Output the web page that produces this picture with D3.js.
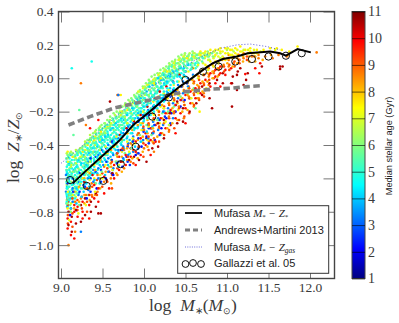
<!DOCTYPE html>
<html><head><meta charset="utf-8">
<script src="https://cdn.jsdelivr.net/npm/d3@7"></script>
<style>html,body{margin:0;padding:0;background:#fff}svg{display:block}</style>
</head><body><div id="c"></div>
<script>
// Tick labels
const massTicks=[9,9.5,10,10.5,11,11.5,12];
const metalTicks=[0.4,0.2,0,-0.2,-0.4,-0.6,-0.8,-1.0];
const ageTicks=[1,2,3,4,5,6,7,8,9,10,11];
// Lines [log M*, log Z]
const mufasaStar=[[9.14,-.63],[9.3,-.555],[9.5,-.465],[9.7,-.375],[9.87,-.28],[10.07,-.2],[10.23,-.13],[10.43,-.05],[10.55,-.01],[10.71,.05],[10.83,.09],[10.95,.115],[11.12,.13],[11.25,.15],[11.52,.16],[11.64,.15],[11.71,.135],[11.85,.175],[12.01,.155]];
const andrews=[[9.09,-.28],[9.35,-.23],[9.63,-.18],[9.85,-.155],[10.07,-.13],[10.3,-.1],[10.5,-.08],[10.83,-.065],[11.04,-.06],[11.25,-.05],[11.4,-.045]];
const mufasaGas=[[9,-.51],[9.2,-.43],[9.5,-.3],[9.8,-.17],[10.1,-.05],[10.4,.05],[10.7,.13],[10.92,.18],[11.12,.2],[11.28,.205],[11.48,.19],[11.64,.17]];
const gallazzi=[[9.11,-.61],[9.31,-.645],[9.51,-.615],[9.72,-.515],[9.9,-.41],[10.1,-.23],[10.3,-.115],[10.5,-.01],[10.71,.04],[10.9,.07],[11.1,.1],[11.3,.115],[11.5,.13],[11.71,.135],[11.9,.15]];
// Scatter rows per age: [log M*, Z, Z, ...]
const age47=[[9.07,-.5,-.53,-.56,-.6,-.63,-.66,-.7,-.74],[9.1,-.48,-.52,-.55,-.58,-.62,-.65,-.69,-.73],[9.13,-.49,-.54,-.57,-.6,-.64,-.67,-.71],[9.17,-.47,-.51,-.54,-.58,-.61,-.65,-.68,-.72],[9.2,-.46,-.5,-.53,-.57,-.6,-.63,-.67],[9.24,-.45,-.48,-.52,-.55,-.59,-.62,-.66],[9.28,-.44,-.47,-.51,-.54,-.58,-.61,-.64],[9.32,-.42,-.46,-.49,-.53,-.56,-.6],[9.36,-.4,-.44,-.47,-.5,-.54,-.58],[9.4,-.39,-.42,-.46,-.49,-.53,-.57],[9.44,-.36,-.4,-.44,-.48,-.51,-.55],[9.48,-.35,-.38,-.42,-.46,-.49,-.53],[9.52,-.33,-.37,-.4,-.44,-.48],[9.56,-.32,-.35,-.39,-.42,-.46,-.5],[9.6,-.3,-.34,-.37,-.41,-.44],[9.64,-.28,-.32,-.35,-.38,-.42],[9.68,-.26,-.3,-.34,-.37,-.41],[9.72,-.25,-.28,-.32,-.35,-.39],[9.76,-.23,-.27,-.3,-.34,-.37],[9.8,-.21,-.25,-.28,-.31,-.35],[9.84,-.2,-.23,-.26,-.3,-.33],[9.88,-.18,-.21,-.25,-.28,-.31],[9.92,-.16,-.19,-.23,-.26,-.3],[9.96,-.14,-.18,-.21,-.24,-.28],[10,-.12,-.15,-.19,-.22,-.25],[10.04,-.1,-.14,-.17,-.2,-.24],[10.08,-.09,-.12,-.15,-.19,-.22],[10.12,-.07,-.1,-.13,-.16,-.2],[10.16,-.05,-.08,-.12,-.15,-.18],[10.2,-.03,-.06,-.1,-.13,-.16],[10.24,-.01,-.04,-.08,-.11,-.14],[10.28,0,-.03,-.06,-.09],[10.32,.02,-.01,-.04,-.08],[10.36,.03,0,-.03,-.06],[10.4,.04,.01,-.02],[10.45,.06,.03,0],[10.5,.07,.04,.01],[10.56,.08,.05],[10.62,.09,.06],[9.13,.06],[9.37,.1]];
const age56=[[9.08,-.46,-.52,-.57,-.61,-.66,-.72,-.77],[9.11,-.45,-.5,-.56,-.63,-.7,-.76],[9.15,-.34,-.47,-.52,-.59,-.66,-.74],[9.19,-.44,-.49,-.56,-.62,-.69],[9.22,-.19,-.43,-.48,-.55,-.61],[9.26,-.41,-.47,-.53,-.6,-.66],[9.3,-.39,-.45,-.5,-.57],[9.34,-.37,-.43,-.48,-.55],[9.38,-.35,-.39,-.45,-.52],[9.42,-.33,-.38,-.44],[9.46,-.31,-.36,-.41],[9.5,-.3,-.34,-.39],[9.54,-.28,-.31,-.36],[9.58,-.26,-.3,-.35],[9.62,-.24,-.28,-.33],[9.66,-.23,-.27,-.31],[9.7,-.21,-.25,-.29],[9.74,-.2,-.23,-.28],[9.78,-.17,-.21,-.26],[9.82,-.16,-.19,-.24],[9.86,-.13,-.17,-.22],[9.9,-.11,-.16,-.2],[9.94,-.1,-.13,-.18],[9.98,-.08,-.11,-.16],[10.02,-.06,-.09,-.14],[10.06,-.03,-.07,-.11],[10.1,-.02,-.06,-.1],[10.14,-.01,-.04,-.08],[10.18,.01,-.02,-.06],[10.22,.02,0,-.05],[10.26,.05,.02,-.02],[10.3,.07,.03,0],[10.34,.08,.05,.01],[10.38,.09,.06,.02],[10.42,.11,.07,.03],[10.47,.12,.09,.05],[10.52,.13,.1,.06],[10.58,.14,.11,.07],[10.64,.14,.1,.07],[10.7,.13,.1],[10.76,.14],[10.82,.15],[9.85,-.42],[10.2,-.34],[10.62,-.18]];
const age66=[[9.07,-.45,-.55,-.64,-.73],[9.12,-.44,-.53,-.62,-.7,-.8],[9.18,-.43,-.51,-.6,-.68],[9.23,-.42,-.5,-.58],[9.29,-.38,-.47,-.55,-.66],[9.35,-.34,-.44,-.5],[9.41,-.32,-.4,-.46],[9.47,-.29,-.37,-.43],[9.53,-.27,-.33],[9.59,-.25,-.29],[9.65,-.22,-.27],[9.71,-.2,-.25],[9.77,-.16,-.23],[9.83,-.14,-.19],[9.89,-.11,-.15],[9.95,-.08,-.12],[10.01,-.05,-.1],[10.07,-.02,-.07],[10.13,0,-.04],[10.19,.03,-.01],[10.25,.05,.01],[10.31,.08,.04],[10.37,.1,.06],[10.43,.12,.08],[10.49,.14,.1],[10.55,.15,.11],[10.61,.15,.12],[10.67,.15,.11],[10.73,.15,.12],[10.79,.14,.11],[10.85,.16,.13],[10.92,.15,.12],[11,.17],[11.08,.16],[11.2,.17],[9.98,-.38],[10.3,-.28]];
const age75=[[9.08,-.44,-.62,-.78],[9.14,-.47,-.7],[9.2,-.45,-.66],[9.26,-.44,-.6],[9.32,-.4,-.56],[9.4,-.37,-.52,-.6],[9.48,-.32,-.5],[9.56,-.29,-.45],[9.64,-.26,-.41],[9.72,-.22,-.36],[9.8,-.19,-.33],[9.88,-.14,-.3],[9.96,-.11,-.27],[10.04,-.04,-.24],[10.12,-.03,-.22],[10.2,0,-.17],[10.28,.04,-.12],[10.36,.07,-.09],[10.44,.1,-.05],[10.52,.12,-.02],[10.6,.13,.01],[10.68,.16,.14,.04],[10.74,.16,.13,.08],[10.8,.17,.15,.1],[10.86,.17,.14,.1],[10.92,.18,.16,.12],[10.98,.18,.15,.11],[11.04,.17,.14],[11.1,.18,.15],[11.16,.19,.16],[11.22,.17],[11.28,.18,.16],[11.36,.17,.15],[11.44,.17],[11.52,.18],[11.6,.18],[11.66,.17],[11.75,.16],[11.85,.19],[10.67,-.2],[9.72,-.1]];
const age87=[[9.09,-.72,-1],[9.17,-.74,-.92],[9.24,-.03,-.72],[9.3,-.28,-.7],[9.37,-.63,-.7],[9.44,-.58,-.68],[9.52,-.53,-.62],[9.6,-.51,-.6],[9.68,-.47,-.58,-.1],[9.76,-.43,-.54],[9.84,-.39,-.5],[9.92,-.34,-.45],[10,-.31,-.42],[10.06,-.28,-.38],[10.12,-.25,-.36,-.44],[10.18,-.22,-.3],[10.24,-.18,-.27],[10.3,-.15,-.23,-.32],[10.36,-.12,-.21],[10.42,-.1,-.17],[10.48,-.07,-.14,-.24],[10.54,-.05,-.11],[10.6,-.03,-.09,-.17],[10.66,.01,-.05,-.12],[10.72,.02,-.03,-.09],[10.78,.06,.01,-.04],[10.84,.07,.03],[10.9,.09,.05],[10.96,.12,.08],[11.02,.14,.11,.07],[11.08,.13,.09],[11.14,.14,.11],[11.2,.15,.12],[11.3,.15,.13],[11.38,.14,.12],[11.46,.13],[11.55,.12],[11.62,.14],[11.72,.13],[12.08,.155]];
const age98=[[9.08,-.76,-.84,-.9],[9.12,-.78,-.86,-.94],[9.16,-.76,-.8,-.96],[9.2,-.77,-.83],[9.26,-.74,-.8,-.84],[9.34,-.7,-.76,-.84],[9.4,-.64,-.72],[9.45,-.25,-.66,-.74],[9.52,-.59,-.69],[9.58,-.56,-.66],[9.64,-.52,-.6],[9.7,-.47,-.55],[9.78,-.46,-.52],[9.84,-.42,-.47],[9.9,-.38,-.44,-.52],[9.96,-.36,-.46],[10.02,-.33,-.4],[10.08,-.3,-.37,-.46],[10.14,-.28,-.38],[10.2,-.24,-.33],[10.26,-.21,-.3],[10.32,-.19,-.28],[10.38,-.16,-.24,-.33],[10.44,-.13,-.21],[10.5,-.1,-.18,-.27],[10.56,-.08,-.15],[10.62,-.06,-.12],[10.68,-.03,-.09],[10.74,-.01,-.07],[10.8,.03,-.05],[10.86,.05,.01,-.03],[10.92,.07,.03,-.05],[10.98,.05,.02],[11.05,.06,-.03],[11.22,.025],[11.34,.06],[11.4,.09],[11.39,.03],[9.35,-.3],[9.69,-.1]];
const age106=[[9.09,-.8,-.88],[9.13,-.83,-.92],[9.18,-.79,-.87],[9.24,-.76,-.86],[9.29,-.72,-.82],[9.36,-.74,-.8],[9.42,-.69,-.77],[9.45,-.81],[9.48,-.81],[9.55,-.61],[9.62,-.57],[9.72,-.43,-.5],[9.82,-.49],[9.88,-.47],[9.94,-.41,-.49],[10.03,-.36,-.5],[10.1,-.33,-.42],[10.17,-.27,-.41],[10.24,-.25,-.36],[10.31,-.28,-.21],[10.4,-.27,-.14],[10.47,-.18,-.26],[10.55,-.2,-.12],[10.63,-.15,-.08],[10.7,-.1,-.05],[10.79,-.12,-.03],[10.82,-.18],[10.88,-.01,-.06],[10.95,.03,-.03],[11.06,-.17,-.03],[11.07,.01],[11.12,-.07,.02],[11.13,.04],[11.16,.06],[11.2,-.04],[11.23,-.01],[11.25,.03],[11.42,.07],[11.64,.07,.055],[11.67,.07],[9.59,-.14]];
const age33=[[9.06,-.58,-.68],[9.09,-.6,-.74],[9.14,-.66,-.74],[9.21,-.62,-.7],[9.24,-.92],[9.27,-.57,-.64],[9.33,-.5,-.6,-.67],[9.39,-.55,-.62],[9.45,-.46,-.54,-.6],[9.51,-.44,-.52],[9.57,-.4,-.48,-.56],[9.63,-.37,-.46,-.54],[9.69,-.36,-.43,-.5,-.1],[9.75,-.33,-.41,-.48],[9.81,-.29,-.39,-.46],[9.87,-.27,-.35,-.44],[9.93,-.24,-.33,-.42],[9.99,-.22,-.3,-.37],[10.05,-.19,-.28,-.36],[10.11,-.17,-.26,-.33],[10.17,-.14,-.24,-.31],[10.23,-.12,-.2,-.28],[10.29,-.09,-.18],[10.35,-.07,-.15,-.24],[10.41,-.04,-.12],[10.47,-.02,-.09],[10.53,0,-.05],[10.59,.02]];
// Second pass over the cloud, at off-column masses
const age42=[[9.073,-.57,-.65,-.71,-.77],[9.094,-.51,-.61,-.68],[9.118,-.59,-.72,-.78],[9.152,-.55,-.63,-.7],[9.186,-.53,-.66,-.75],[9.213,-.49,-.56,-.69],[9.247,-.51,-.6,-.71],[9.273,-.46,-.62,-.68],[9.305,-.48,-.52,-.63],[9.338,-.45,-.59,-.65],[9.372,-.42,-.52,-.57],[9.403,-.44,-.5,-.61],[9.437,-.41,-.47,-.57],[9.466,-.38,-.45,-.52,-.63],[9.498,-.37,-.43,-.5],[9.531,-.35,-.41,-.49,-.58],[9.565,-.34,-.44,-.52],[9.597,-.31,-.38,-.47],[9.624,-.3,-.39,-.45,-.55],[9.659,-.27,-.36,-.43],[9.691,-.28,-.34,-.44,-.53],[9.728,-.24,-.33,-.4],[9.756,-.25,-.31,-.42,-.49],[9.793,-.22,-.3,-.36],[9.827,-.19,-.28,-.37,-.45],[9.858,-.18,-.25,-.33],[9.892,-.15,-.24,-.3,-.41],[9.927,-.13,-.21,-.29],[9.961,-.12,-.2,-.27,-.38],[9.994,-.09,-.17,-.26],[10.033,-.08,-.16,-.23,-.32],[10.066,-.05,-.13,-.21],[10.102,-.04,-.11,-.19,-.29],[10.138,-.03,-.09,-.17],[10.171,0,-.07,-.14,-.25],[10.207,-.01,-.05,-.12],[10.244,.02,-.03,-.1,-.2],[10.276,.01,-.02,-.08],[10.313,.03,.01,-.06],[10.348,.04,-.02],[10.392,.05,.02],[10.43,.06,.01],[10.48,.06,.02],[10.53,.08]];
const age52=[[9.066,-.48,-.55,-.62,-.69,-.75],[9.089,-.47,-.59,-.65,-.71],[9.126,-.46,-.51,-.58,-.69],[9.161,-.49,-.56,-.63,-.7],[9.194,-.45,-.52,-.59,-.65],[9.228,-.44,-.5,-.58,-.64],[9.262,-.43,-.49,-.56],[9.295,-.41,-.48,-.53,-.62],[9.327,-.39,-.44,-.52,-.58],[9.361,-.37,-.42,-.49,-.56],[9.394,-.36,-.41,-.48],[9.426,-.34,-.39,-.45,-.51],[9.459,-.33,-.37,-.43,-.5],[9.493,-.31,-.36,-.41],[9.527,-.29,-.34,-.38,-.46],[9.561,-.28,-.33,-.37],[9.593,-.27,-.31,-.36,-.42],[9.629,-.25,-.3,-.36],[9.662,-.24,-.29,-.33,-.39],[9.694,-.23,-.26,-.31],[9.732,-.21,-.26,-.3,-.38],[9.767,-.19,-.24,-.29],[9.801,-.18,-.22,-.27,-.32],[9.836,-.16,-.21,-.24],[9.869,-.14,-.19,-.24,-.29],[9.904,-.12,-.17,-.22],[9.938,-.11,-.15,-.2,-.25],[9.972,-.09,-.14,-.18],[10.011,-.07,-.12,-.17,-.21],[10.047,-.05,-.1,-.15],[10.083,-.03,-.08,-.13,-.18],[10.117,-.02,-.07,-.11],[10.154,0,-.05,-.09,-.14],[10.189,.01,-.03,-.08],[10.226,.03,-.01,-.06,-.1],[10.263,.04,.01,-.04],[10.295,.06,.02,-.02],[10.332,.07,.03,-.01],[10.367,.07,.04,.01],[10.405,.09,.05,.02],[10.441,.1,.07],[10.483,.11,.08,.04],[10.527,.12,.09],[10.573,.12,.09,.06],[10.612,.13,.08],[10.655,.12,.09],[10.71,.12],[10.78,.13]];
const age61=[[9.078,-.48,-.58,-.66,-.75],[9.104,-.46,-.54,-.68],[9.143,-.45,-.56,-.64,-.72],[9.172,-.46,-.55,-.66],[9.208,-.44,-.54,-.62],[9.252,-.42,-.46,-.57],[9.284,-.4,-.49,-.52],[9.318,-.37,-.43,-.51],[9.352,-.36,-.41,-.46],[9.388,-.33,-.38,-.44],[9.423,-.31,-.36,-.42],[9.456,-.3,-.35],[9.489,-.28,-.33,-.39],[9.524,-.27,-.32],[9.558,-.25,-.3,-.35],[9.592,-.23,-.28],[9.634,-.21,-.26,-.31],[9.671,-.2,-.24],[9.704,-.18,-.23,-.28],[9.741,-.17,-.21],[9.775,-.15,-.2,-.25],[9.812,-.13,-.18],[9.847,-.12,-.16,-.21],[9.882,-.1,-.14],[9.917,-.09,-.12,-.17],[9.951,-.07,-.1],[9.986,-.05,-.09,-.13],[10.024,-.03,-.06],[10.058,-.01,-.05,-.1],[10.092,.01,-.03],[10.128,.02,-.02,-.06],[10.163,.03,0],[10.198,.05,.01,-.03],[10.233,.06,.03],[10.268,.07,.04,0],[10.304,.09,.05],[10.339,.1,.07,.03],[10.376,.11,.08],[10.414,.13,.09,.05],[10.452,.14,.11],[10.494,.15,.12,.07],[10.538,.14,.11],[10.585,.16,.13,.09],[10.631,.14,.12],[10.684,.15,.13],[10.727,.14],[10.768,.16,.13],[10.83,.13],[10.88,.15]];
const age71=[[9.084,-.5,-.68],[9.122,-.52,-.75],[9.178,-.48,-.71],[9.235,-.47,-.63],[9.291,-.43,-.58],[9.345,-.38,-.61],[9.412,-.35,-.55],[9.473,-.34,-.47,-.58],[9.536,-.3,-.41,-.52],[9.602,-.27,-.38,-.49],[9.667,-.24,-.35,-.46],[9.735,-.2,-.3,-.44],[9.798,-.16,-.27,-.38],[9.864,-.15,-.25,-.36],[9.931,-.08,-.22,-.33],[9.991,-.06,-.2,-.31],[10.055,-.04,-.15,-.29],[10.112,-.01,-.14,-.25],[10.173,.02,-.11,-.2],[10.238,.04,-.09,-.18],[10.296,.06,-.07,-.15],[10.358,.09,-.04,-.14],[10.418,.11,-.02,-.1],[10.477,.13,.01,-.08],[10.535,.13,.04,-.06],[10.596,.15,.06,-.03],[10.652,.14,.08,0],[10.712,.15,.09,.02],[10.773,.15,.11,.05],[10.838,.16,.12,.07],[10.895,.17,.13,.09],[10.947,.16,.13],[11.012,.18,.15,.12],[11.063,.17,.14],[11.125,.17,.14],[11.183,.16,.14],[11.255,.17,.15],[11.325,.17,.15],[11.405,.16],[11.58,.17]];
const age82=[[9.098,-.7,-.82],[9.159,-.68,-.78],[9.219,-.65,-.74],[9.282,-.6,-.7,-.75],[9.346,-.57,-.66,-.73],[9.409,-.55,-.63,-.7],[9.471,-.49,-.6,-.66],[9.538,-.46,-.56],[9.604,-.43,-.53,-.63],[9.667,-.4,-.5,-.57],[9.733,-.37,-.47,-.56],[9.796,-.33,-.42,-.49],[9.859,-.31,-.4,-.48],[9.924,-.28,-.37,-.48],[9.985,-.27,-.35,-.44],[10.042,-.25,-.33,-.41],[10.104,-.21,-.3,-.38],[10.161,-.19,-.27,-.35],[10.219,-.16,-.24,-.33],[10.281,-.12,-.21,-.3],[10.342,-.1,-.18,-.27],[10.403,-.07,-.15,-.25],[10.462,-.05,-.12,-.2],[10.524,-.03,-.1,-.19],[10.583,-.01,-.07,-.15],[10.642,.02,-.04,-.12],[10.705,.05,-.02,-.08],[10.764,.07,.03,-.02],[10.826,.08,.04,0],[10.887,.1,.06,.01],[10.943,.11,.07],[11.004,.12,.09],[11.067,.12,.07],[11.125,.12,.09],[11.193,.13,.1],[11.267,.13,.1],[11.34,.13,.1],[11.43,.11],[11.53,.14],[11.74,.14]];
const age92=[[9.083,-.74,-.82,-.87],[9.138,-.72,-.81,-.89],[9.198,-.73,-.79],[9.252,-.71,-.78],[9.314,-.66,-.74,-.8],[9.376,-.65,-.71],[9.433,-.61,-.7],[9.497,-.57,-.65],[9.558,-.54,-.62],[9.614,-.5,-.58,-.66],[9.679,-.45,-.54],[9.743,-.42,-.5],[9.806,-.4,-.47],[9.872,-.37,-.43,-.51],[9.936,-.33,-.41],[9.993,-.29,-.39,-.47],[10.055,-.27,-.35,-.43],[10.117,-.24,-.32,-.39],[10.182,-.2,-.29,-.38],[10.243,-.17,-.25,-.34],[10.303,-.16,-.24,-.31],[10.365,-.13,-.2,-.3],[10.423,-.09,-.18,-.25],[10.486,-.08,-.16,-.23],[10.544,-.06,-.12,-.21],[10.603,-.02,-.1,-.16],[10.664,-.01,-.06,-.13],[10.723,.02,-.04,-.11],[10.785,.02,-.01,-.07],[10.842,.04,0],[10.903,.06,.02],[10.964,.07,.04],[11.028,.08,.05],[11.09,.1,.07],[11.15,.09,.11],[11.24,.11,.13],[11.33,.13]];
const age26=[[9.079,-.63,-.72],[9.146,-.6,-.68],[9.224,-.57,-.68],[9.289,-.53,-.65],[9.356,-.48,-.6,-.68],[9.417,-.47,-.56],[9.482,-.43,-.55,-.62],[9.546,-.42,-.5],[9.612,-.38,-.49,-.57],[9.674,-.34,-.45,-.51],[9.738,-.35,-.43],[9.803,-.31,-.41,-.5],[9.866,-.29,-.38],[9.933,-.26,-.36,-.45],[9.995,-.24,-.32],[10.058,-.22,-.3,-.39],[10.125,-.18,-.28],[10.188,-.16,-.25,-.34],[10.252,-.13,-.23],[10.318,-.11,-.2,-.27],[10.384,-.08,-.16],[10.45,-.05,-.13],[10.516,-.03,-.08],[9.83,-.52]];
// Third pass: colours that mix into the cloud below the median line
const age22=[[9.11,-.82],[9.19,-.79],[9.31,-.72],[9.43,-.66],[9.54,-.6],[9.63,-.58],[9.74,-.53],[9.79,-.47],[9.9,-.46],[9.97,-.41],[10.03,-.35],[10.09,-.3],[10.13,-.37],[10.21,-.3],[10.27,-.24],[10.33,-.21],[10.38,-.2],[10.44,-.17],[10.49,-.13]];
const age58=[[9.11,-.8],[9.22,-.76],[9.33,-.7],[9.42,-.63],[9.49,-.56],[9.58,-.53],[9.66,-.5],[9.77,-.45],[9.86,-.38],[9.95,-.34],[10.03,-.28],[10.09,-.34],[10.16,-.25],[10.22,-.21],[10.29,-.2],[10.36,-.17],[10.44,-.11],[10.53,-.09],[10.6,-.06]];
const age72=[[9.1,-.85],[9.21,-.81],[9.3,-.76],[9.41,-.68],[9.5,-.6],[9.62,-.55],[9.7,-.52],[9.82,-.44],[9.89,-.39],[9.97,-.31],[10.04,-.37],[10.11,-.3],[10.19,-.27],[10.26,-.26],[10.34,-.2],[10.41,-.19],[10.49,-.16],[10.57,-.12],[10.65,-.09],[10.75,-.06]];
const age102=[[9.28,-.62],[9.38,-.58],[9.47,-.48],[9.55,-.44],[9.63,-.41],[9.71,-.34],[9.79,-.3],[9.88,-.26],[9.96,-.22],[10.04,-.17],[10.13,-.12],[10.19,-.08],[10.27,-.05],[10.35,-.02],[10.43,.02],[10.5,.04],[10.58,.06]];
const ageValues=[4.7,5.6,6.6,7.5,8.7,9.8,10.6,3.3,4.1,5.2,6.1,7.1,8.2,9.2,2.6,2.2,5.8,7.2,10.2];
const ageRows=[age47,age56,age66,age75,age87,age98,age106,age33,age42,age52,age61,age71,age82,age92,age26,age22,age58,age72,age102];

const W=399,H=323;
const svg=d3.select('#c').append('svg').attr('width',W).attr('height',H);
const x=d3.scaleLinear().domain([9,12]).range([61,310]);
const y=d3.scaleLinear().domain([0.4,-1.2]).range([11.5,278.5]);
const jetStops=[[0,'#00007f'],[.11,'#0000ff'],[.35,'#00ffff'],[.64,'#ffff00'],[.89,'#ff0000'],[1,'#7f0000']];
const ageNorm=d3.scaleLinear().domain([1,11]).range([0,1]);
const jet=d3.scaleLinear().domain(jetStops.map(d=>d[0])).range(jetStops.map(d=>d[1]));
const serif='"Liberation Serif",serif', sans='"Liberation Sans",sans-serif';
const txt='#3a3a3a';

// flatten scatter; drawing order only mixes the colours
let pts=[];
ageRows.forEach((rows,k)=>rows.forEach(r=>r.slice(1).forEach(z=>pts.push({m:r[0],z,age:ageValues[k]}))));
pts=pts.map((p,i)=>({...p,o:(i*397)%1009})).sort((a,b)=>a.o-b.o);
svg.append('g').selectAll('circle').data(pts).join('circle')
 .attr('cx',d=>x(d.m)).attr('cy',d=>y(d.z)).attr('r',1.3).attr('fill',d=>jet(ageNorm(d.age)));

const line=d3.line().x(d=>x(d[0])).y(d=>y(d[1]));
svg.append('path').attr('d',line(mufasaGas)).attr('fill','none').attr('stroke','#4a4ad0').attr('stroke-width',.9).attr('stroke-dasharray','1 2');
svg.append('path').attr('d',line(andrews)).attr('fill','none').attr('stroke','#808080').attr('stroke-width',3.6).attr('stroke-dasharray','6.5 3.5');
svg.append('path').attr('d',line(mufasaStar)).attr('fill','none').attr('stroke','#000').attr('stroke-width',2);
svg.append('g').selectAll('circle').data(gallazzi).join('circle')
 .attr('cx',d=>x(d[0])).attr('cy',d=>y(d[1])).attr('r',3.6).attr('fill','none').attr('stroke','#111').attr('stroke-width',1);

// axes with inward ticks
const tickCol='#777';
const xb=svg.append('g').attr('transform','translate(0,278.5)').call(d3.axisBottom(x).tickValues(massTicks).tickSize(-10).tickPadding(5).tickFormat(d3.format('.1f')));
const xt=svg.append('g').attr('transform','translate(0,11.5)').call(d3.axisTop(x).tickValues(massTicks).tickSize(-11).tickFormat(''));
const yl=svg.append('g').attr('transform','translate(58.5,0)').call(d3.axisLeft(y).tickValues(metalTicks).tickSize(-11).tickPadding(5).tickFormat(d=>d3.format('.1f')(d).replace('-','\u2212')));
const yr=svg.append('g').attr('transform','translate(334.5,0)').call(d3.axisRight(y).tickValues(metalTicks).tickSize(-11).tickFormat(''));
[xb,xt,yl,yr].forEach(g=>{g.select('.domain').remove();g.selectAll('line').attr('stroke',tickCol).attr('stroke-width',1);
 g.selectAll('text').attr('font-family',serif).attr('font-size',13.5).attr('fill',txt);});
xb.selectAll('text').attr('dy','0.6em');
svg.append('rect').attr('x',58.5).attr('y',11.5).attr('width',276).attr('height',267).attr('fill','none').attr('stroke','#444').attr('stroke-width',1.4);

// legend
const lg=svg.append('g');
lg.append('rect').attr('x',177.7).attr('y',205.7).attr('width',151).attr('height',67.6).attr('fill','#fff').attr('stroke','#333').attr('stroke-width',1);
const rowsY=[213,230,247,263];
lg.append('line').attr('x1',185).attr('x2',202).attr('y1',rowsY[0]).attr('y2',rowsY[0]).attr('stroke','#000').attr('stroke-width',1.8);
lg.append('line').attr('x1',185).attr('x2',202).attr('y1',rowsY[1]).attr('y2',rowsY[1]).attr('stroke','#808080').attr('stroke-width',3).attr('stroke-dasharray','5 3');
lg.append('line').attr('x1',185).attr('x2',202).attr('y1',rowsY[2]).attr('y2',rowsY[2]).attr('stroke','#4a4ad0').attr('stroke-width',.8).attr('stroke-dasharray','1 1.3');
[185.5,193,201].forEach((cx,i)=>lg.append('circle').attr('cx',cx).attr('cy',[264,263,264][i]).attr('r',3.4).attr('fill','none').attr('stroke','#111').attr('stroke-width',1));
function mathLabel(g,xp,yp,parts,size){
 const t=g.append('text').attr('x',xp).attr('y',yp).attr('font-size',size).attr('fill','#222').attr('font-family',serif);
 parts.forEach(p=>{const s=t.append('tspan').text(p.t);
  if(p.sans){s.attr('font-family',sans);}
  if(p.i)s.attr('font-style','italic');
  if(p.fs)s.attr('font-size',p.fs);
  if(p.dy)s.attr('dy',p.dy);
 });return t;}
mathLabel(lg,214,rowsY[0]+3.5,[{t:'Mufasa ',sans:1},{t:'M',i:1,fs:11},{t:'*',fs:7,dy:2},{t:' \u2212 Z',i:1,fs:11,dy:-2},{t:'*',fs:7,dy:2}],11);
mathLabel(lg,214,rowsY[1]+3.5,[{t:'Andrews+Martini 2013',sans:1}],11);
mathLabel(lg,214,rowsY[2]+3.5,[{t:'Mufasa ',sans:1},{t:'M',i:1,fs:11},{t:'*',fs:7,dy:2},{t:' \u2212 Z',i:1,fs:11,dy:-2},{t:'gas',i:1,fs:7.5,dy:2}],11);
mathLabel(lg,214,rowsY[3]+3.5,[{t:'Gallazzi et al. 05',sans:1}],11);

// axis titles
mathLabel(svg,149,311,[{t:'log\u2002'},{t:'M',i:1},{t:'\u2217',fs:10,dy:3},{t:'(',dy:-3},{t:'M',i:1},{t:'\u2299',fs:9,dy:3},{t:')',dy:-3}],17.5).attr('fill',txt);
mathLabel(svg,0,0,[{t:'log\u2002'},{t:'Z',i:1},{t:'\u2217',fs:10,dy:3},{t:'/',dy:-3},{t:'Z',i:1},{t:'\u2299',fs:9,dy:3}],17.5).attr('fill',txt)
 .attr('transform','translate(19,183) rotate(-90)');

// colour bar
const defs=svg.append('defs');
const grad=defs.append('linearGradient').attr('id','jet').attr('x1',0).attr('x2',0).attr('y1',1).attr('y2',0);
jetStops.forEach(s=>grad.append('stop').attr('offset',s[0]).attr('stop-color',s[1]));
const cy=d3.scaleLinear().domain([1,11]).range([278.5,11.5]);
svg.append('rect').attr('x',352).attr('y',11.5).attr('width',13).attr('height',267).attr('fill','url(#jet)').attr('stroke','#444').attr('stroke-width',1);
const cb=svg.append('g').attr('transform','translate(365,0)').call(d3.axisRight(cy).tickValues(ageTicks).tickSize(-13).tickPadding(3).tickFormat(d3.format('d')));
cb.select('.domain').remove();
cb.selectAll('line').attr('stroke','#000').attr('stroke-opacity',.75).attr('stroke-width',.8);
cb.selectAll('text').attr('font-family',serif).attr('font-size',14).attr('fill',txt);
svg.append('text').attr('transform','translate(391.5,146) rotate(-90)').attr('text-anchor','middle').attr('font-family',sans).attr('font-size',9.2).attr('fill','#222').text('Median stellar age (Gyr)');
</script></body></html>
